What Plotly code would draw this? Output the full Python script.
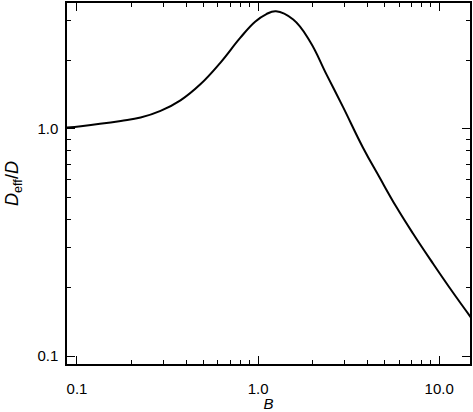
"""
Effective diffusion ratio D_eff/D versus B on log-log axes
"""

import plotly.graph_objects as go

# curve
b_values = [0.0817, 0.1052, 0.134, 0.1746, 0.2246, 0.2893, 0.3727, 0.480,
            0.6183, 0.7964, 0.9627, 1.106, 1.256, 1.563, 1.931, 2.385, 2.942,
            3.790, 4.680, 5.782, 7.135, 9.189, 11.83, 15.56]
ratio_values = [1.007, 1.028, 1.052, 1.084, 1.121, 1.199, 1.335, 1.571,
                1.953, 2.514, 2.962, 3.194, 3.292, 3.027, 2.432, 1.738, 1.249,
                0.828, 0.612, 0.455, 0.348, 0.257, 0.1918, 0.1417]

x_ticks = [0.1, 1, 10]
x_tick_text = ['0.1', '1.0', '10.0']
x_minor = [0.2, 0.3, 0.4, 0.5, 0.6, 0.7, 0.8, 0.9,
           2, 3, 4, 5, 6, 7, 8, 9]
y_ticks = [0.1, 1]
y_tick_text = ['0.1', '1.0']
y_minor = [0.2, 0.3, 0.4, 0.5, 0.6, 0.7, 0.8, 0.9, 2, 3]

font = 'Liberation Sans, Arial, sans-serif'

fig = go.Figure()

fig.add_trace(go.Scatter(
    x=b_values,
    y=ratio_values,
    mode='lines',
    line=dict(color='black', width=2, shape='spline', smoothing=1.2),
    showlegend=False
))

axis_style = dict(
    type='log',
    showgrid=False,
    zeroline=False,
    showline=True,
    linecolor='black',
    linewidth=1.5,
    mirror='allticks',
    ticks='inside',
    tickcolor='black',
    tickwidth=1.2,
    ticklen=8,
    tickmode='array',
    tickfont=dict(family=font, size=15, color='black'),
)

fig.update_xaxes(
    **axis_style,
    range=[-1.055, 1.17],
    tickvals=x_ticks,
    ticktext=x_tick_text,
    ticklabelstandoff=10,
    minor=dict(ticks='inside', ticklen=4, tickcolor='black', tickwidth=1,
               tickmode='array', tickvals=x_minor),
    title=dict(text='<i>B</i>', font=dict(family=font, size=15, color='black'),
               standoff=4)
)

fig.update_yaxes(
    **axis_style,
    range=[-1.035, 0.554],
    tickvals=y_ticks,
    ticktext=y_tick_text,
    ticklabelstandoff=4,
    minor=dict(ticks='inside', ticklen=4, tickcolor='black', tickwidth=1,
               tickmode='array', tickvals=y_minor),
    title=dict(text='<i>D</i><sub>eff</sub>/<i>D</i>',
               font=dict(family=font, size=18, color='black'),
               standoff=14)
)

fig.update_layout(
    width=473,
    height=412,
    margin=dict(l=67, r=2, t=1, b=48),
    plot_bgcolor='white',
    paper_bgcolor='white'
)

# drop the page's default body margin so the figure sits at the window corner
fig.write_html("out.html", config={'displayModeBar': False},
               post_script="document.body.style.margin='0';")
